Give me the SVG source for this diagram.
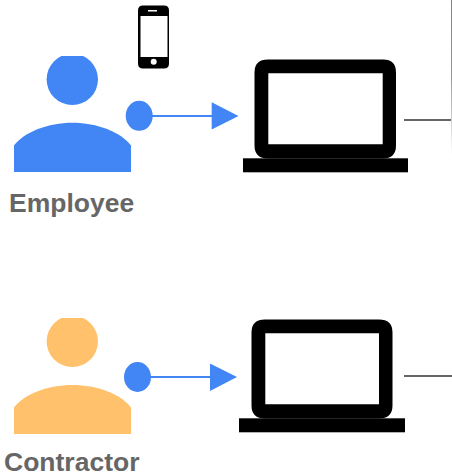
<svg xmlns="http://www.w3.org/2000/svg" width="452" height="475" viewBox="0 0 452 475">
<defs>
<style>
.lbl{font-family:"Liberation Sans",Arial,sans-serif;font-weight:700;font-size:26.500px;fill:#666666}
.emp{fill:#4285f4}
.con{fill:#ffc16b}
.dot{fill:#4285f4}
.wire{stroke:#4285f4;stroke-width:2;fill:none}
.grey{stroke:#666666;stroke-width:2;fill:none}
</style>
<clipPath id="c1"><rect x="0" y="56" width="200" height="120"/></clipPath>
<clipPath id="c2"><rect x="0" y="318" width="200" height="120"/></clipPath>
<linearGradient id="fade" x1="0" y1="0" x2="0" y2="1"><stop offset="0" stop-color="#808080"/><stop offset="0.5" stop-color="#999999"/><stop offset="1" stop-color="#ffffff"/></linearGradient>
</defs>
<rect width="452" height="475" fill="#ffffff"/>
<g id="employee">
<g clip-path="url(#c1)"><circle class="emp" cx="72.300" cy="79.300" r="25.700"/></g>
<path class="emp" d="M14 145.500C24 132 48 122.700 72.500 122.700C97 122.700 121 132 131 145.500V172H14Z"/>
<text class="lbl" x="9" y="212">Employee</text>
</g>
<g id="phone">
<path d="M143 5.500H164Q169 5.500 169 10.500V63.500Q169 68.500 164 68.500H143Q138 68.500 138 63.500V10.500Q138 5.500 143 5.500Z" fill="#000"/>
<rect x="140.500" y="16" width="27" height="41" fill="#fff"/>
<rect x="148" y="10" width="9" height="1.500" fill="#fff"/>
<circle cx="153.700" cy="61.800" r="3" fill="#fff"/>
</g>
<g id="employee-laptop">
<path fill-rule="evenodd" d="M268 59.500H383Q396 59.500 396 72.500V145.500Q396 158.500 383 158.500H268Q254.500 158.500 254.500 145.500V72.500Q254.500 59.500 268 59.500ZM268.300 73.300V144.300H382.700V73.300Z"/>
<rect x="243" y="158.300" width="165" height="14"/>
</g>
<g id="contractor">
<g clip-path="url(#c2)"><circle class="con" cx="72.300" cy="341.300" r="25.700"/></g>
<path class="con" d="M14 407.500C24 394 48 385 72.500 385C97 385 121 394 131 407.500V434H14Z"/>
<text class="lbl" x="4" y="471">Contractor</text>
</g>
<g id="contractor-laptop">
<path fill-rule="evenodd" d="M265 319.500H379Q392.500 319.500 392.500 332.500V405.500Q392.500 418.500 379 418.500H265Q251.500 418.500 251.500 405.500V332.500Q251.500 319.500 265 319.500ZM265.300 333.300V404.300H379V333.300Z"/>
<rect x="239" y="418.300" width="166" height="14"/>
</g>
<g id="connectors">
<ellipse class="dot" cx="139.200" cy="115.800" rx="13.500" ry="15"/>
<path class="wire" d="M152 116H212"/>
<path class="dot" d="M211.700 102.300L238.500 116L211.700 129.500Z"/>
<ellipse class="dot" cx="137.500" cy="377" rx="13.500" ry="15"/>
<path class="wire" d="M150 377H210"/>
<path class="dot" d="M210 363.500L237 377L210 391Z"/>
<path class="grey" d="M404 120H452"/>
<path class="grey" d="M404 376H452"/>
<rect x="451" y="0" width="1" height="155" fill="url(#fade)"/>
</g>
</svg>
